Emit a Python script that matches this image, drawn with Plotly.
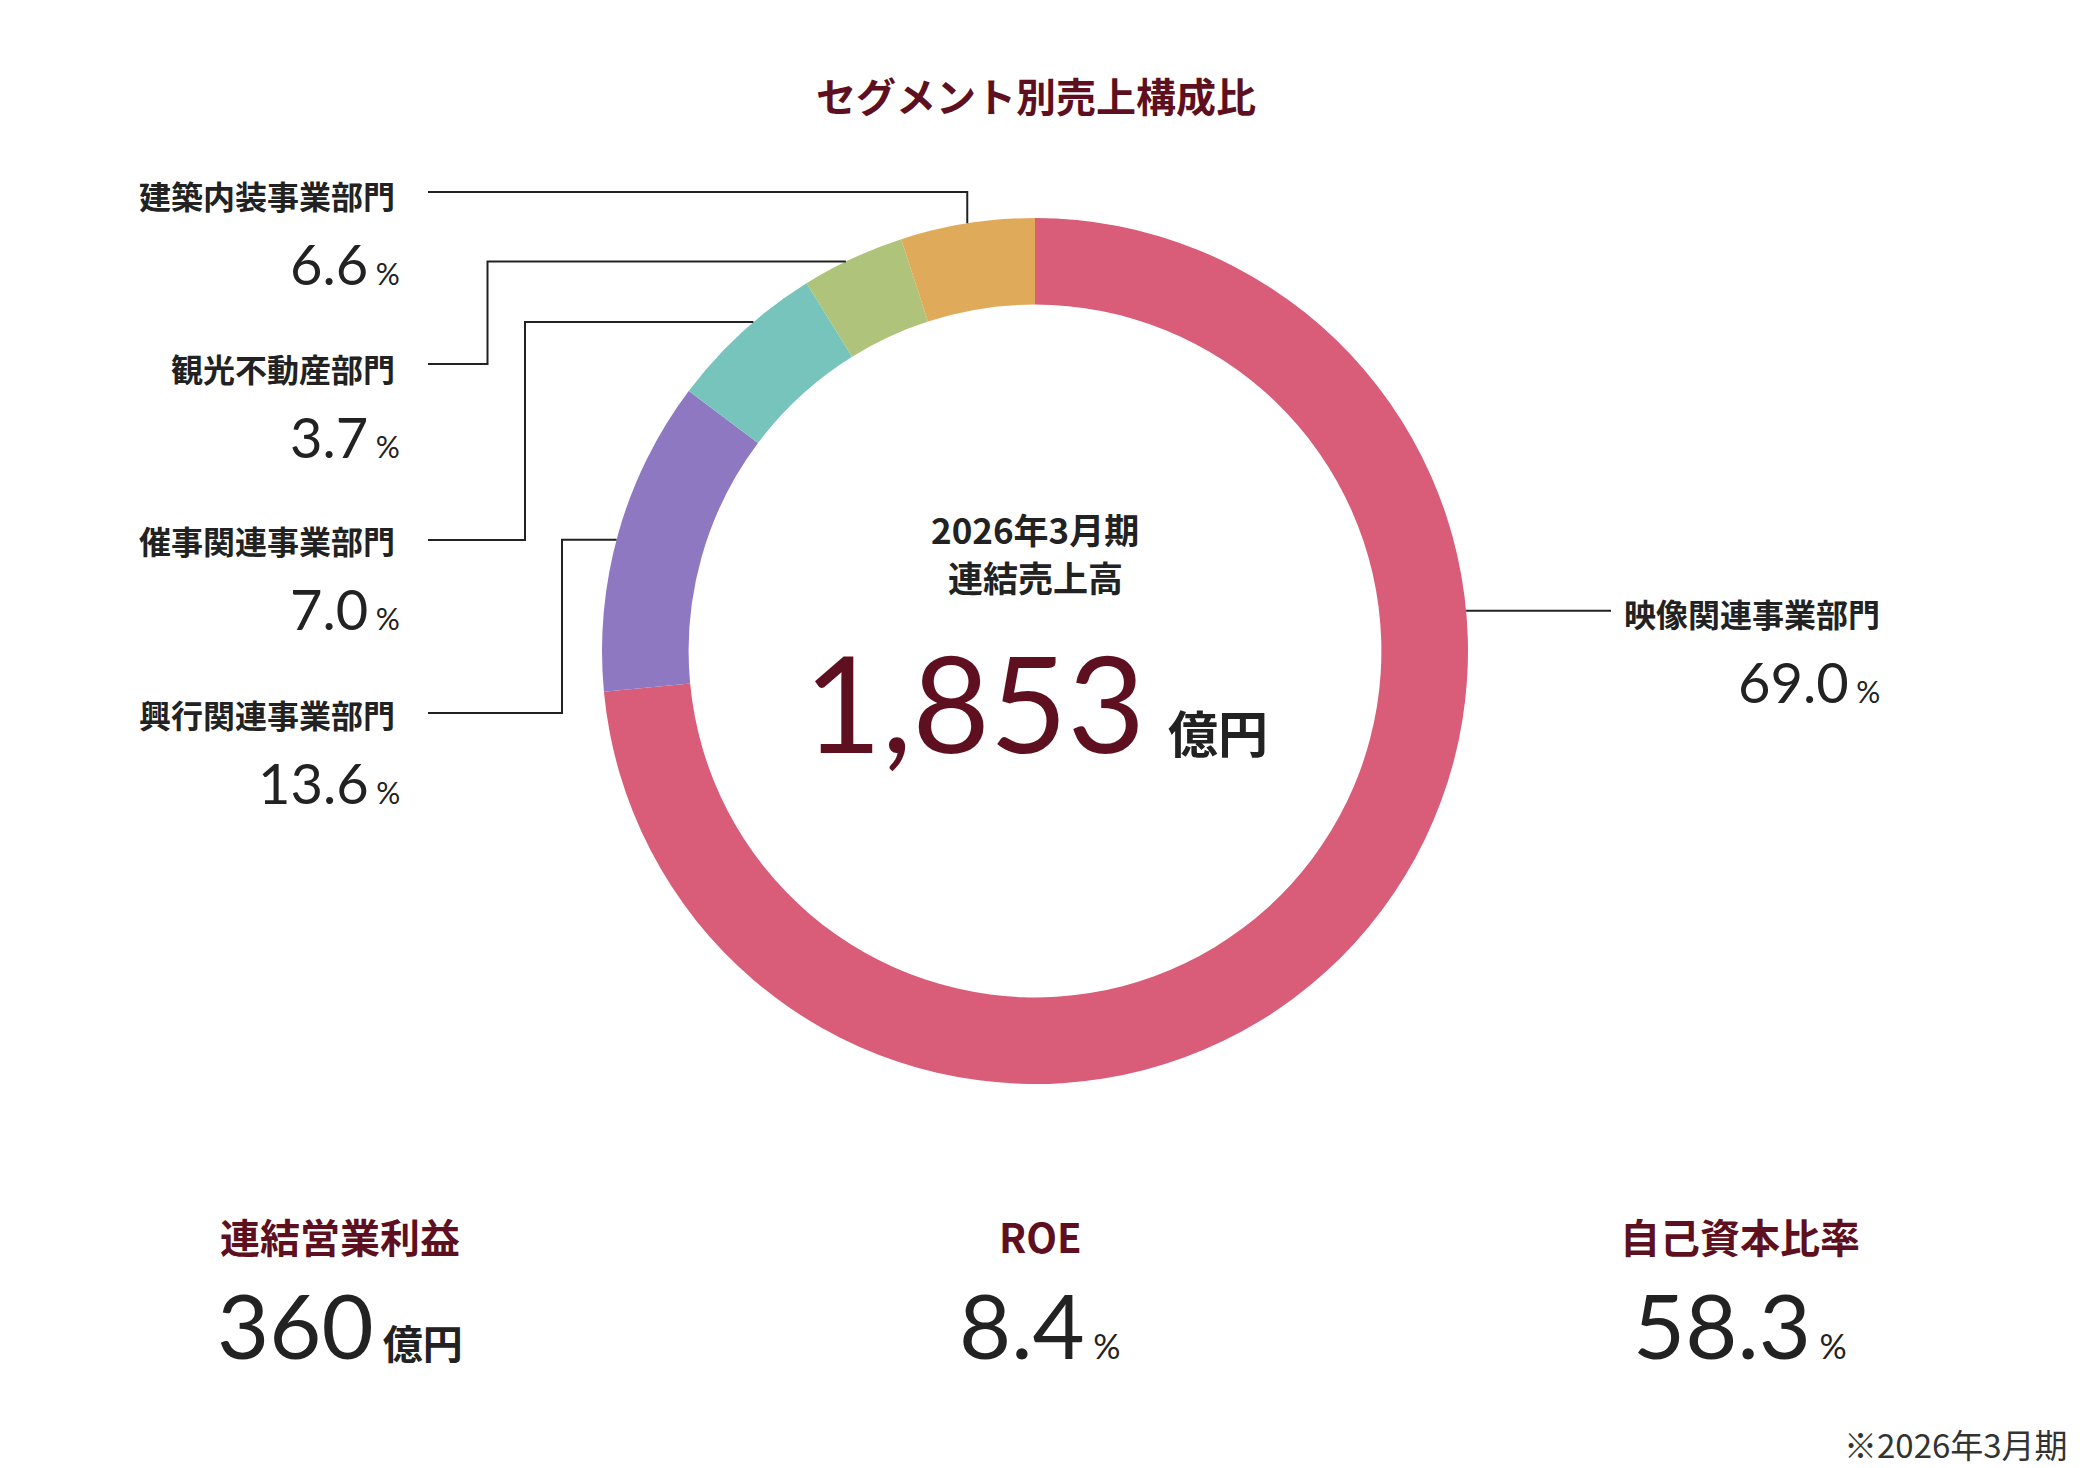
import math
import plotly.graph_objects as go

# ---------------- data ----------------
title_text = "セグメント別売上構成比"
segments = ["映像関連事業部門", "興行関連事業部門", "催事関連事業部門", "観光不動産部門", "建築内装事業部門"]
printed_pct = ["69.0", "13.6", "7.0", "3.7", "6.6"]          # percentages printed next to labels
drawn_share = [73.5, 11.75, 5.9, 3.85, 5.0]                 # arc sizes as drawn in the ring
colors = ["#D95C78", "#8D78C1", "#77C4BC", "#AFC47A", "#DFAB5A"]

center_period = "2026年3月期"
center_label = "連結売上高"
center_value = "1,853"
center_unit = "億円"

kpi_titles = ["連結営業利益", "ROE", "自己資本比率"]
kpi_values = ["360", "8.4", "58.3"]
kpi_units = ["億円", "%", "%"]
footnote = "※2026年3月期"

# ---------------- style / layout ----------------
W, H = 2080, 1468
CX, CY, R = 1035, 651, 433
HOLE = 0.8
MAROON = "#5E1020"
DARK = "#222222"
JP = "Noto Sans CJK JP"
NUM = "Lato"


def px(x):
    return x / W


def py(y):
    return 1 - y / H


fig = go.Figure()
fig.add_trace(go.Pie(
    labels=segments, values=drawn_share, sort=False, direction="clockwise", rotation=0,
    hole=HOLE, textinfo="none", hoverinfo="label",
    marker=dict(colors=colors, line=dict(width=0)),
    domain=dict(x=[px(CX - R), px(CX + R)], y=[py(CY + R), py(CY - R)]),
    showlegend=False,
))

# slice angles (clockwise from 12 o'clock) derived from data
total = sum(drawn_share)
starts, spans = [], []
acc = 0.0
for v in drawn_share:
    starts.append(360 * acc / total)
    spans.append(360 * v / total)
    acc += v

# leader-line style per segment: position along slice, row y, elbow x
leader_pos = [0.32, 0.48, 0.59, 0.43, 0.5]
row_y = [612, 713, 540, 364, 192]
elbow_x = [None, 562, 525, 487.5, None]
LINE_X0 = 428


def attach(i):
    a = math.radians(starts[i] + leader_pos[i] * spans[i])
    return CX + R * math.sin(a), CY - R * math.cos(a)


shapes = []
for i in range(len(segments)):
    ax, ay = attach(i)
    if i == 0:
        path = f"M {px(ax)},{py(ay)} H {px(1611)}"
    elif elbow_x[i] is None:
        path = f"M {px(LINE_X0)},{py(row_y[i])} H {px(ax)} V {py(ay)}"
    else:
        path = (f"M {px(LINE_X0)},{py(row_y[i])} H {px(elbow_x[i])} "
                f"V {py(ay)} H {px(ax)}")
    shapes.append(dict(type="path", path=path, xref="paper", yref="paper",
                       line=dict(color=DARK, width=2)))

annotations = []


def ann(text, x, y, size, family=JP, color=DARK, weight="bold", xanchor="center", yanchor="middle"):
    annotations.append(dict(text=text, x=px(x), y=py(y), xref="paper", yref="paper",
                            showarrow=False, xanchor=xanchor, yanchor=yanchor,
                            font=dict(family=family, size=size, color=color, weight=weight)))


def pct_text(v, big, small):
    return (f"<span style='font-size:{big}px'>{v}</span>"
            f"<span style='font-size:{small}px'> %</span>")


# title
ann(title_text, 1036, 95, 40, color=MAROON)

# segment labels
label_y = [613, 714, 540, 368, 195]
for i in range(len(segments)):
    if i == 0:
        ann(segments[i], 1622, label_y[i], 32, xanchor="left")
        ann(pct_text(printed_pct[i], 56, 30), 1882, label_y[i] + 68, 56,
            family=NUM, weight="normal", xanchor="right")
    else:
        ann(segments[i], 397, label_y[i], 32, xanchor="right")
        ann(pct_text(printed_pct[i], 56, 30), 402, label_y[i] + 68, 56,
            family=NUM, weight="normal", xanchor="right")

# center
ann(center_period, 1035, 528, 35)
ann(center_label, 1035, 576, 35)
ann(f"<span style='font-family:{NUM};font-weight:normal;font-size:134px;color:{MAROON}'>{center_value}</span>"
    f"<span style='font-size:50px'>  {center_unit}</span>",
    1036, 701, 134)

# KPIs
kpi_x = [340, 1040, 1740]
for i in range(3):
    ann(kpi_titles[i], kpi_x[i], 1236, 40, color=MAROON)
    if kpi_units[i] == "%":
        unit = f"<span style='font-size:34px'> %</span>"
    else:
        unit = f"<span style='font-family:{JP};font-weight:bold;font-size:40px'> {kpi_units[i]}</span>"
    ann(f"<span style='font-size:90px'>{kpi_values[i]}</span>{unit}",
        kpi_x[i], 1324, 90, family=NUM, weight="normal")

ann(footnote, 2070, 1444, 33, weight="normal", color="#333333", xanchor="right")

fig.update_layout(
    width=W, height=H, margin=dict(l=0, r=0, t=0, b=0),
    paper_bgcolor="white", plot_bgcolor="white",
    shapes=shapes, annotations=annotations,
)

fig.write_html("out.html")
